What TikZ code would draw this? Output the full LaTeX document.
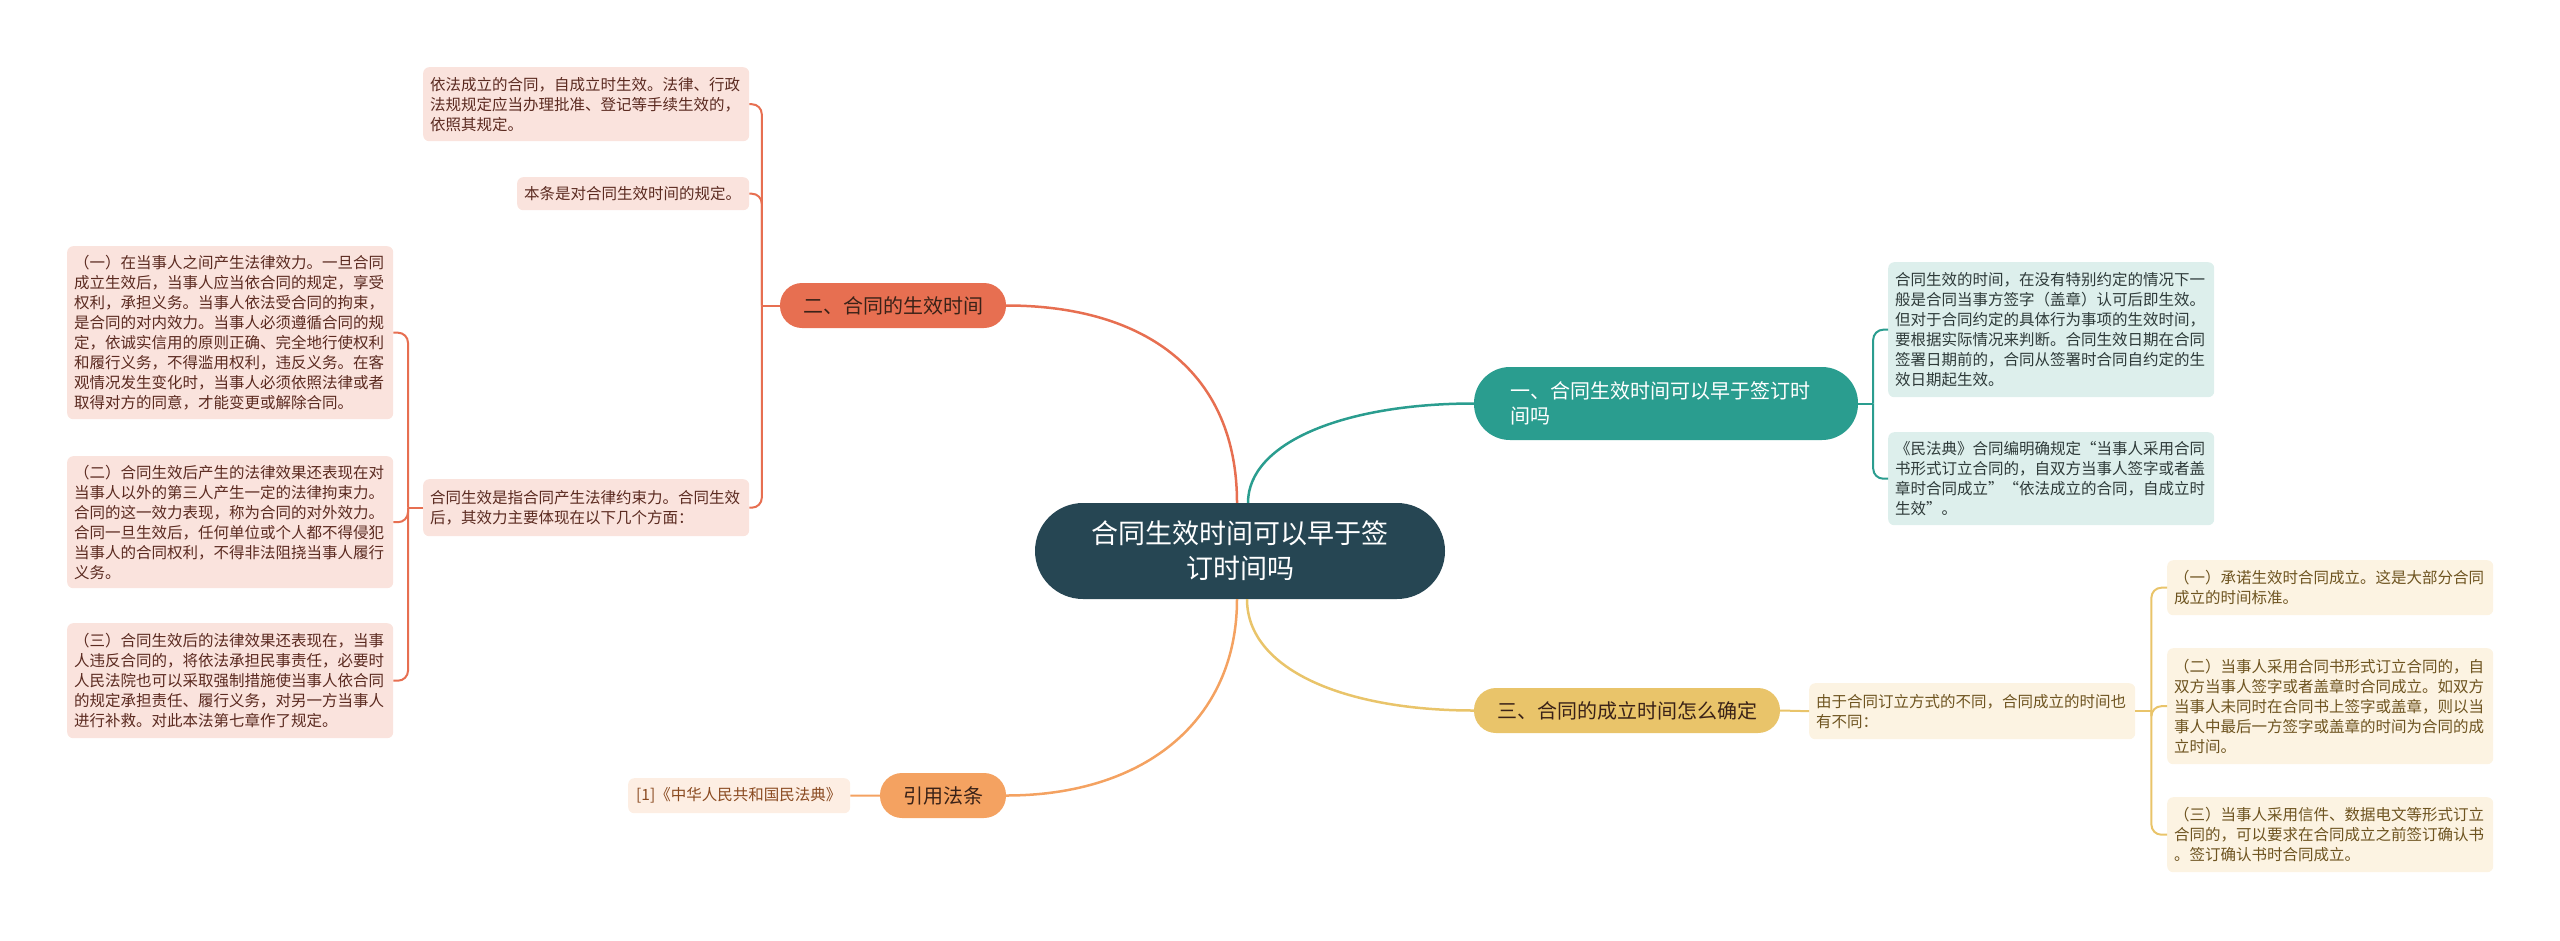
\documentclass[tikz,border=0pt]{standalone}
\usepackage{fontspec}
\setmainfont{Noto Sans CJK SC}
\definecolor{cmain}{HTML}{264653}
\definecolor{cteal}{HTML}{2A9D8F}
\definecolor{ccoral}{HTML}{E76F51}
\definecolor{cgold}{HTML}{E9C46A}
\definecolor{corange}{HTML}{F4A261}
\definecolor{lteal}{HTML}{DDEFEC}
\definecolor{lcoral}{HTML}{FAE3DD}
\definecolor{lgold}{HTML}{FCF3E2}
\definecolor{lorange}{HTML}{FDEEE3}
\definecolor{tteal}{HTML}{2E3A39}
\definecolor{tcoral}{HTML}{5B2A20}
\definecolor{tgold}{HTML}{6E5420}
\definecolor{torange}{HTML}{8A4A20}
\definecolor{tdark}{HTML}{3A2218}
\begin{document}
\begin{tikzpicture}[x=1pt,y=-1pt,
  leaf/.style={rounded corners=6pt, inner xsep=7pt, inner ysep=0pt, align=left,
    anchor=north west, text width=312pt, font=\fontsize{15.5}{20}\selectfont},
  tealleaf/.style={leaf, fill=lteal, text=tteal},
  coralleaf/.style={leaf, fill=lcoral, text=tcoral},
  goldleaf/.style={leaf, fill=lgold, text=tgold},
  orangeleaf/.style={leaf, fill=lorange, text=torange},
  branch/.style={inner sep=0pt, minimum height=45pt, font=\fontsize{20}{25}\selectfont, rounded corners=22pt},
  mainline/.style={line width=2.5pt},
  subline/.style={line width=2pt, rounded corners=10pt},
]
\useasboundingbox (0,0) rectangle (2560,940);

% central
\node[fill=cmain, text=white, rounded corners=48pt, minimum width=410pt, minimum height=96pt,
  inner sep=0pt, align=center, font=\fontsize{27}{35}\selectfont] (c) at (1240,551)
  {合同生效时间可以早于签\\订时间吗};

% branches
\node[branch, fill=cteal, text=white, minimum width=384pt, minimum height=73pt, rounded corners=36pt,
  text width=312pt, align=left] (b1) at (1666,403.5) {一、合同生效时间可以早于签订时\\间吗};
\node[branch, fill=ccoral, text=tdark, minimum width=226pt] (b2) at (893,305.5) {二、合同的生效时间};
\node[branch, fill=cgold, text=tdark, minimum width=306pt] (b3) at (1627,710.5) {三、合同的成立时间怎么确定};
\node[branch, fill=corange, text=tdark, minimum width=126pt] (b4) at (943,795.5) {引用法条};

% main connectors
\draw[mainline, ccoral] ([xshift=-3pt]c.north) .. controls +(0,-130) and +(140,0) .. (b2.east);
\draw[mainline, cteal] ([xshift=8pt]c.north) .. controls +(0,-60) and +(-130,0) .. (b1.west);
\draw[mainline, cgold] ([xshift=7pt]c.south) .. controls +(0,70) and +(-130,0) .. (b3.west);
\draw[mainline, corange] ([xshift=-3pt]c.south) .. controls +(0,120) and +(140,0) .. (b4.east);

% teal leaves
\node[tealleaf, minimum height=135pt] (t1) at (1888,262)
 {合同生效的时间，在没有特别约定的情况下一\\般是合同当事方签字（盖章）认可后即生效。\\但对于合同约定的具体行为事项的生效时间，\\要根据实际情况来判断。合同生效日期在合同\\签署日期前的，合同从签署时合同自约定的生\\效日期起生效。};
\node[tealleaf, minimum height=93pt] (t2) at (1888,432)
 {《民法典》合同编明确规定“当事人采用合同\\书形式订立合同的，自双方当事人签字或者盖\\章时合同成立”“依法成立的合同，自成立时\\生效”。};
\coordinate (s1) at ([xshift=15pt]b1.east);
\draw[subline, cteal] (b1.east) -- (s1);
\draw[subline, cteal] (s1) |- (t1.west);
\draw[subline, cteal] (s1) |- (t2.west);

% coral leaves
\node[coralleaf, minimum height=74pt] (ra) at (423,67)
 {依法成立的合同，自成立时生效。法律、行政\\法规规定应当办理批准、登记等手续生效的，\\依照其规定。};
\node[coralleaf, minimum height=33pt, text width=218pt] (rb) at (517,177)
 {本条是对合同生效时间的规定。};
\node[coralleaf, minimum height=57pt] (rc) at (423,479)
 {合同生效是指合同产生法律约束力。合同生效\\后，其效力主要体现在以下几个方面：};
\coordinate (s2) at ([xshift=-18pt]b2.west);
\draw[subline, ccoral] (b2.west) -- (s2);
\draw[subline, ccoral] (s2) |- (ra.east);
\draw[subline, ccoral] (s2) |- (rb.east);
\draw[subline, ccoral] (s2) |- (rc.east);

\node[coralleaf, minimum height=173pt] (l1) at (67,246)
 {（一）在当事人之间产生法律效力。一旦合同\\成立生效后，当事人应当依合同的规定，享受\\权利，承担义务。当事人依法受合同的拘束，\\是合同的对内效力。当事人必须遵循合同的规\\定，依诚实信用的原则正确、完全地行使权利\\和履行义务，不得滥用权利，违反义务。在客\\观情况发生变化时，当事人必须依照法律或者\\取得对方的同意，才能变更或解除合同。};
\node[coralleaf, minimum height=132pt] (l2) at (67,456)
 {（二）合同生效后产生的法律效果还表现在对\\当事人以外的第三人产生一定的法律拘束力。\\合同的这一效力表现，称为合同的对外效力。\\合同一旦生效后，任何单位或个人都不得侵犯\\当事人的合同权利，不得非法阻挠当事人履行\\义务。};
\node[coralleaf, minimum height=115pt] (l3) at (67,623)
 {（三）合同生效后的法律效果还表现在，当事\\人违反合同的，将依法承担民事责任，必要时\\人民法院也可以采取强制措施使当事人依合同\\的规定承担责任、履行义务，对另一方当事人\\进行补救。对此本法第七章作了规定。};
\coordinate (s3) at ([xshift=-15pt]rc.west);
\draw[subline, ccoral] (rc.west) -- (s3);
\draw[subline, ccoral] (s3) |- (l1.east);
\draw[subline, ccoral] (s3) |- (l2.east);
\draw[subline, ccoral] (s3) |- (l3.east);

% gold
\node[goldleaf, minimum height=56pt] (gi) at (1809,683)
 {由于合同订立方式的不同，合同成立的时间也\\有不同：};
\draw[subline, cgold] (b3.east) -- (gi.west);
\node[goldleaf, minimum height=55pt] (g1) at (2167,560)
 {（一）承诺生效时合同成立。这是大部分合同\\成立的时间标准。};
\node[goldleaf, minimum height=116pt] (g2) at (2167,648)
 {（二）当事人采用合同书形式订立合同的，自\\双方当事人签字或者盖章时合同成立。如双方\\当事人未同时在合同书上签字或盖章，则以当\\事人中最后一方签字或盖章的时间为合同的成\\立时间。};
\node[goldleaf, minimum height=75pt] (g3) at (2167,797)
 {（三）当事人采用信件、数据电文等形式订立\\合同的，可以要求在合同成立之前签订确认书\\。签订确认书时合同成立。};
\coordinate (s4) at ([xshift=16pt]gi.east);
\draw[subline, cgold] (gi.east) -- (s4);
\draw[subline, cgold] (s4) |- (g1.west);
\draw[subline, cgold] (s4) |- (g2.west);
\draw[subline, cgold] (s4) |- (g3.west);

% orange
\node[orangeleaf, minimum height=35pt, text width=206pt, inner xsep=8pt] (o1) at (628,778)
 {[1]《中华人民共和国民法典》};
\draw[subline, corange] (b4.west) -- (o1.east);
\end{tikzpicture}
\end{document}
